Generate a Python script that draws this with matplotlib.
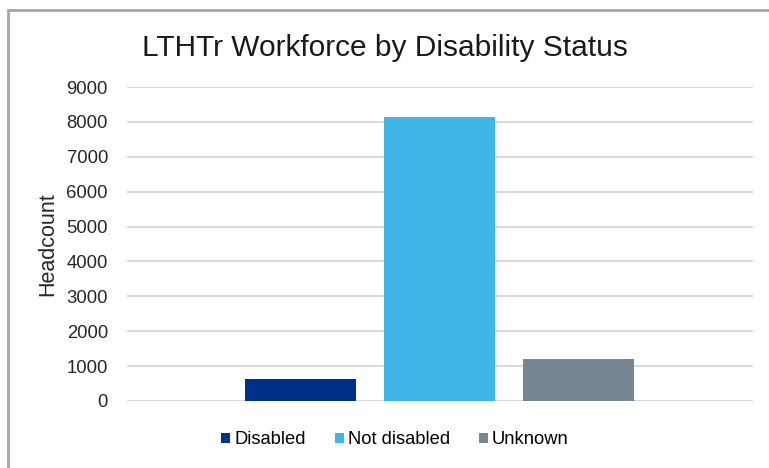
import matplotlib

matplotlib.use("Agg")
import matplotlib.pyplot as plt
from matplotlib.patches import Rectangle

plt.rcParams["font.family"] = ["Liberation Sans", "DejaVu Sans"]

# Headcount by disability status
categories = ["Disabled", "Not disabled", "Unknown"]
headcount = [630, 8130, 1210]
colors = ["#003087", "#41B6E6", "#768692"]
yticks = list(range(0, 9001, 1000))

fig = plt.figure(figsize=(7.69, 4.68), dpi=100)
ax = fig.add_axes([0.1648, 0.1432, 0.979 - 0.1648, 0.8141 - 0.1432])

for i, (cat, val) in enumerate(zip(categories, headcount)):
    ax.bar(i, val, width=0.8, color=colors[i], label=cat, zorder=3)

ax.set_xlim(-1.253, 3.26)
ax.set_ylim(0, 9000)
ax.set_yticks(yticks)
ax.set_yticklabels([str(t) for t in yticks], fontsize=13.3, color="#262626")
ax.set_xticks([])
ax.tick_params(axis="y", length=0, pad=13.5)
ax.grid(axis="y", color="#d9d9d9", linewidth=1.5, zorder=0)
for s in ax.spines.values():
    s.set_visible(False)
ax.set_ylabel("Headcount", fontsize=15.5, color="#262626", labelpad=6)

fig.text(0.5, 1 - 48 / 468, "LTHTr Workforce by Disability Status", ha="center", va="center",
         fontsize=21.5, color="#1a1a1a")

ax.legend(loc="center", bbox_to_anchor=(395 / 769, 1 - 440 / 468), bbox_transform=fig.transFigure,
          ncol=3, frameon=False, fontsize=13.2, handlelength=0.5, handleheight=0.5,
          handletextpad=0.2, columnspacing=1.6)

# outer chart frame
fig.patches.append(Rectangle((8 / 769, -0.05), 1.1, 1 - 9.5 / 468 + 0.05, transform=fig.transFigure,
                             fill=False, edgecolor="#a6a6a6", linewidth=2))

fig.savefig("out.png", dpi=100)
